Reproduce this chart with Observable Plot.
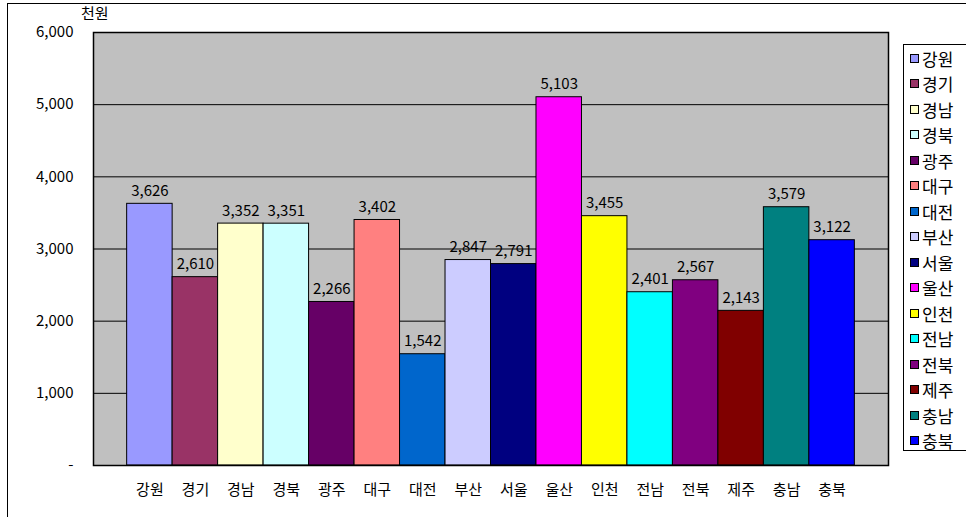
<!DOCTYPE html>
<html>
<head>
<meta charset="utf-8">
<script src="https://cdn.jsdelivr.net/npm/d3@7"></script>
<script src="https://cdn.jsdelivr.net/npm/@observablehq/plot@0.6"></script>
<style>
  html, body { margin: 0; padding: 0; background: #fff; }
  #wrap { position: relative; width: 966px; height: 517px; overflow: hidden; font-family: "Noto Sans CJK KR", "DejaVu Sans", sans-serif; }
  #frame { position: absolute; left: 7px; top: 3px; width: 1000px; height: 600px; border: 1px solid #000; box-sizing: border-box; pointer-events: none; }
  #unit { position: absolute; left: 81px; top: 2px; font-size: 15px; color: #000; }
  #legend { position: absolute; left: 903px; top: 44px; width: 80px; height: 407px; border: 1px solid #000; box-sizing: border-box; background: #fff; }
  .item { position: absolute; left: 6px; height: 20px; display: flex; align-items: center; font-size: 17px; color: #000; white-space: nowrap; }
  .sw { width: 7px; height: 7px; border: 1px solid #000; margin-right: 3px; }
  #chart { position: absolute; left: 0; top: 0; }
</style>
</head>
<body>
<div id="wrap">
  <div id="chart"></div>
  <div id="frame"></div>
  <div id="unit">천원</div>
  <div id="legend"></div>
</div>
<script>
const regions = ["강원","경기","경남","경북","광주","대구","대전","부산","서울","울산","인천","전남","전북","제주","충남","충북"];
const values = [3626, 2610, 3352, 3351, 2266, 3402, 1542, 2847, 2791, 5103, 3455, 2401, 2567, 2143, 3579, 3122];
const colors = ["#9999FF","#993366","#FFFFCC","#CCFFFF","#660066","#FF8080","#0066CC","#CCCCFF","#000080","#FF00FF","#FFFF00","#00FFFF","#800080","#800000","#008080","#0000FF"];
const yTicks = [0, 1000, 2000, 3000, 4000, 5000, 6000];

const data = regions.map((r, i) => ({region: r, value: values[i]}));
const fmt = d3.format(",");

const chart = Plot.plot({
  width: 966,
  height: 517,
  marginLeft: 93,
  marginRight: 78,
  marginTop: 32,
  marginBottom: 52,
  style: {fontFamily: '"Noto Sans CJK KR", "DejaVu Sans", sans-serif', background: "transparent", color: "#000"},
  x: {domain: regions, paddingInner: 0, paddingOuter: 0.74, round: false},
  y: {domain: [0, 6000]},
  color: {domain: regions, range: colors},
  marks: [
    Plot.frame({fill: "#C0C0C0"}),
    Plot.ruleY(yTicks, {stroke: "#000", strokeWidth: 1}),
    Plot.barY(data, {x: "region", y: "value", fill: "region", stroke: "#000", strokeWidth: 1}),
    Plot.text(data, {x: "region", y: "value", text: d => fmt(d.value), lineAnchor: "bottom", dy: -8, fontSize: 15, fill: "#000"}),
    Plot.frame({stroke: "#000", strokeWidth: 1.5}),
    Plot.axisY(yTicks, {tickSize: 0, tickPadding: 20, fontSize: 15, tickFormat: d => d === 0 ? "-" : fmt(d), label: null}),
    Plot.axisX({tickSize: 0, tickPadding: 19, fontSize: 15, label: null})
  ]
});
document.getElementById("chart").appendChild(chart);

const legend = document.getElementById("legend");
regions.forEach((r, i) => {
  const it = document.createElement("div");
  it.className = "item";
  it.style.top = (3 + i * 25.5) + "px";
  const sw = document.createElement("span");
  sw.className = "sw";
  sw.style.background = colors[i];
  const t = document.createElement("span");
  t.textContent = r;
  it.appendChild(sw);
  it.appendChild(t);
  legend.appendChild(it);
});
</script>
</body>
</html>
